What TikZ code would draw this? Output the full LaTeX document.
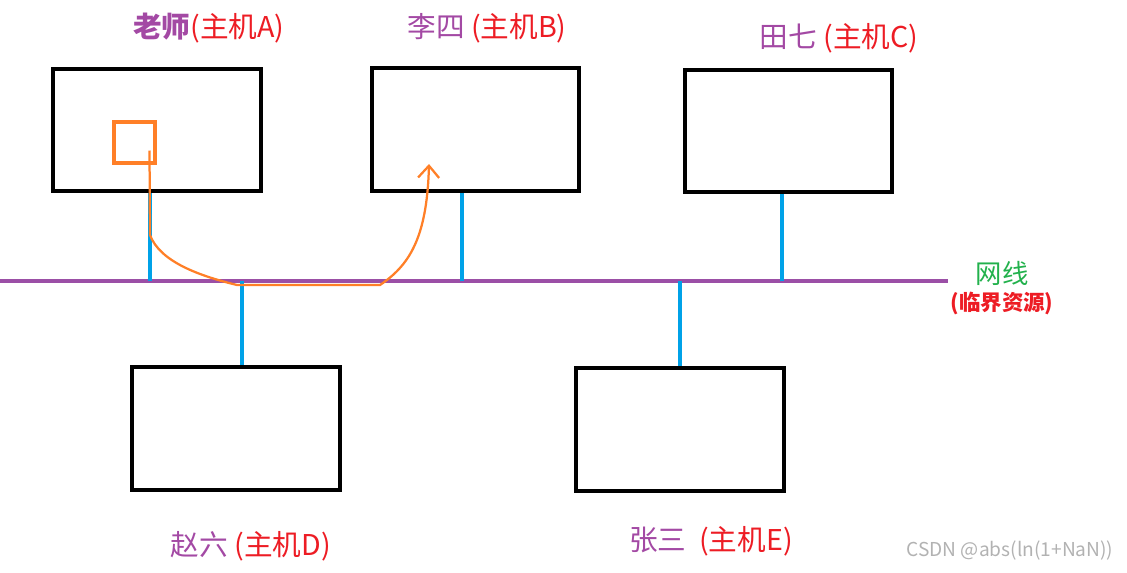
\documentclass[tikz,border=0pt]{standalone}
\usepackage{fontspec}
\newfontfamily\cjk{Noto Sans CJK SC}
\usepackage{xcolor}
\usetikzlibrary{arrows.meta, positioning}
\definecolor{namepurple}{HTML}{A349A4}
\definecolor{hostred}{HTML}{ED1C24}
\definecolor{netpurple}{HTML}{9B4FA6}
\definecolor{tapblue}{HTML}{00A2E8}
\definecolor{msgorange}{HTML}{FF7F27}
\definecolor{netgreen}{HTML}{22B14C}

\begin{document}
\begin{tikzpicture}[x=0.02cm, y=-0.02cm, font=\cjk\fontsize{16.3}{18}\selectfont]
    \tikzstyle{host} = [draw, rectangle, line width=0.08cm, minimum width=4.16cm, minimum height=2.46cm, inner sep=0pt]
    \tikzstyle{hostlabel} = [inner sep=1pt]
    \tikzstyle{net} = [draw=netpurple, line width=0.08cm]
    \tikzstyle{tap} = [draw=tapblue, line width=0.08cm]
    \tikzstyle{proc} = [draw=msgorange, rectangle, line width=0.09cm, minimum size=0.82cm, inner sep=0pt]
    \tikzstyle{flow} = [draw=msgorange, line width=0.045cm, -{Straight Barb[length=0.24cm, width=0.42cm]}]

    \useasboundingbox (0,0) rectangle (1127,572);

    % the shared wire
    \coordinate (netL) at (0,281);
    \coordinate (netR) at (948,281);
    \draw [net] (netL) -- (netR);

    \node [host] (hostA) at (157,130) {};
    \node [host] (hostB) at (475.5,129.5) {};
    \node [host] (hostC) at (788.5,131) {};
    \node [host] (hostD) at (236,428.5) {};
    \node [host] (hostE) at (680,429.5) {};

    \coordinate (tapA) at (150,281);
    \coordinate (tapB) at (462,281);
    \coordinate (tapC) at (782,281);
    \coordinate (tapD) at (242,281);
    \coordinate (tapE) at (680,281);
    \draw [tap] (tapA) -- (tapA |- hostA.south);
    \draw [tap] (tapB) -- (tapB |- hostB.south);
    \draw [tap] (tapC) -- (tapC |- hostC.south);
    \draw [tap] (tapD) -- (tapD |- hostD.north);
    \draw [tap] (tapE) -- (tapE |- hostE.north);

    \node [hostlabel] (labA) at (209,28) {\textcolor{namepurple}{\bfseries 老师}\textcolor{hostred}{(主机A)}};
    \node [hostlabel] (labB) at (487,28) {\textcolor{namepurple}{李四} \textcolor{hostred}{(主机B)}};
    \node [hostlabel] (labC) at (839,38) {\textcolor{namepurple}{田七} \textcolor{hostred}{(主机C)}};
    \node [hostlabel] (labD) at (251,546) {\textcolor{namepurple}{赵六} \textcolor{hostred}{(主机D)}};
    \node [hostlabel] (labE) at (711,541) {\textcolor{namepurple}{张三}\ \ \textcolor{hostred}{(主机E)}};

    \node [text=netgreen, font=\cjk\fontsize{15}{17}\selectfont] (wire) at (1002,273) {网线};
    \node [text=hostred, font=\cjk\bfseries\fontsize{12.2}{14}\selectfont, below=-0.1cm of wire] (crit) {(临界资源)};

    % message from A to B over the wire
    \node [proc] (proc) at (134.5,142.5) {};
    \coordinate (arrive) at (429,164);
    \draw [flow] ([shift={(15,8)}]proc.center) -- (150,235)
        .. controls (160,262) and (200,276) .. (237,285) -- (380,285)
        .. controls (408,266) and (427,240) .. (arrive);

    \node [text=black!30, font=\cjk\fontsize{10.9}{13}\selectfont] (mark) at (1010,551) {CSDN @abs(ln(1+NaN))};
\end{tikzpicture}
\end{document}
